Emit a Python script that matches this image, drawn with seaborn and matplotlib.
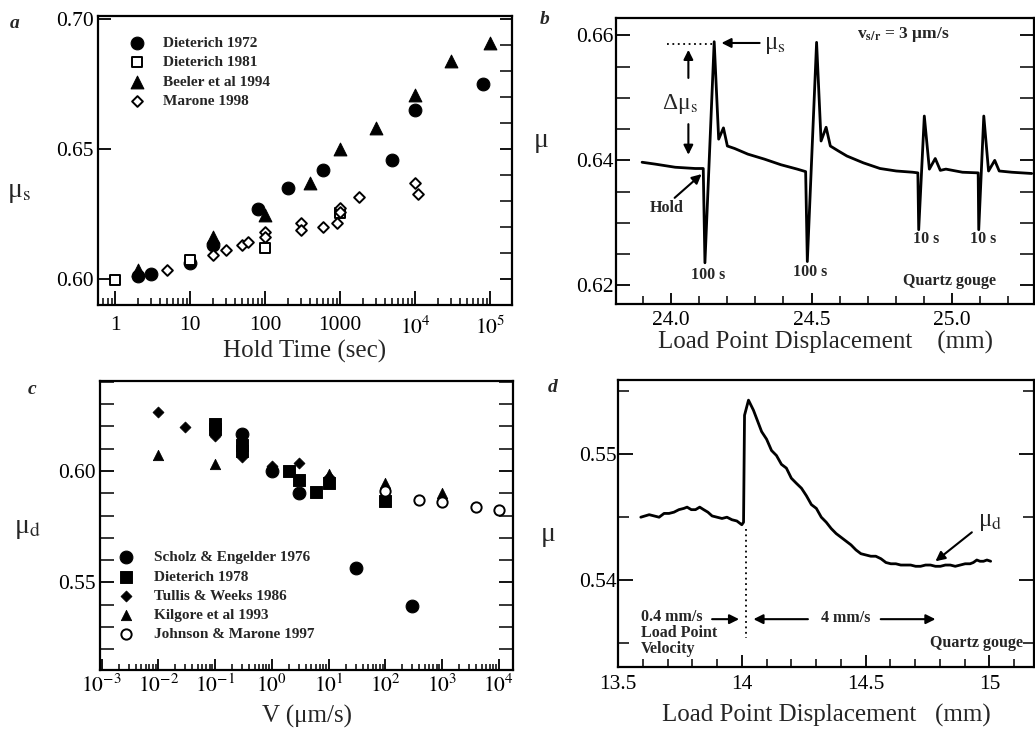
import numpy as np
import pandas as pd
import matplotlib
matplotlib.use("Agg")
import matplotlib.pyplot as plt
import matplotlib.ticker as mticker
import seaborn as sns

# ---------------- data: panel a (static friction vs hold time) ----------------
a_d72_t = [2, 3, 10, 20, 80, 200, 600, 5000, 1e4, 8e4]
a_d72_mu = [0.601, 0.602, 0.606, 0.613, 0.627, 0.635, 0.642, 0.646, 0.665, 0.675]
a_d81_t = [1, 10, 100, 1000]
a_d81_mu = [0.5997, 0.6075, 0.612, 0.6255]
a_b94_t = [2, 20, 100, 400, 1000, 3000, 1e4, 3e4, 1e5]
a_b94_mu = [0.6036, 0.616, 0.6245, 0.637, 0.650, 0.658, 0.671, 0.684, 0.691]
a_m98_t = [5, 20, 30, 50, 60, 100, 100, 300, 300, 600, 900, 1000, 1000, 1800, 1e4, 1.1e4]
a_m98_mu = [0.6036, 0.6094, 0.611, 0.613, 0.6143, 0.618, 0.616, 0.6217, 0.619,
            0.620, 0.6214, 0.6275, 0.626, 0.6316, 0.637, 0.6326]
a_labels = ["Dieterich 1972", "Dieterich 1981", "Beeler et al 1994", "Marone 1998"]
a_xticks = [1, 10, 100, 1000, 1e4, 1e5]
a_xticklabels = ["1", "10", "100", "1000", r"$10^4$", r"$10^5$"]

# ---------------- data: panel b (friction trace, slide-hold-slide) ----------------
b_x = [23.896, 23.943, 24.014, 24.085, 24.114, 24.120, 24.153, 24.169, 24.186, 24.200,
       24.226, 24.273, 24.332, 24.391, 24.449, 24.479, 24.485, 24.518, 24.534, 24.552,
       24.567, 24.596, 24.626, 24.685, 24.744, 24.802, 24.861, 24.879, 24.882, 24.902,
       24.920, 24.941, 24.959, 24.979, 25.038, 25.094, 25.096, 25.114, 25.131, 25.153,
       25.169, 25.214, 25.285]
b_mu = [0.6397, 0.6394, 0.6389, 0.6387, 0.6387, 0.6236, 0.6590, 0.6434, 0.6452, 0.6423,
        0.6419, 0.6410, 0.6402, 0.6393, 0.6386, 0.6382, 0.6238, 0.6589, 0.6431, 0.6453,
        0.6423, 0.6415, 0.6407, 0.6396, 0.6387, 0.6383, 0.6381, 0.6380, 0.6289, 0.6471,
        0.6386, 0.6403, 0.6384, 0.6386, 0.6381, 0.6380, 0.6289, 0.6471, 0.6383, 0.6400,
        0.6383, 0.6381, 0.6379]

# ---------------- data: panel c (dynamic friction vs velocity) ----------------
c_se76_v = [0.3, 1.0, 3.0, 30, 300]
c_se76_mu = [0.6166, 0.600, 0.590, 0.5567, 0.5394]
c_d78_v = [0.1, 0.1, 0.3, 0.3, 2, 3, 6, 10, 100]
c_d78_mu = [0.621, 0.619, 0.6117, 0.609, 0.600, 0.596, 0.5907, 0.5945, 0.5865]
c_tw86_v = [0.01, 0.03, 0.1, 0.3, 1.0, 3.0, 10]
c_tw86_mu = [0.6266, 0.6198, 0.6157, 0.6064, 0.6022, 0.6034, 0.5975]
c_k93_v = [0.01, 0.1, 10, 100, 1000]
c_k93_mu = [0.6072, 0.603, 0.5985, 0.5945, 0.590]
c_jm97_v = [100, 400, 1000, 4000, 10000]
c_jm97_mu = [0.591, 0.587, 0.5862, 0.584, 0.5825]
c_labels = ["Scholz & Engelder 1976", "Dieterich 1978", "Tullis & Weeks 1986",
            "Kilgore et al 1993", "Johnson & Marone 1997"]
c_xticks = [1e-3, 1e-2, 1e-1, 1e0, 1e1, 1e2, 1e3, 1e4]
c_xticklabels = [r"$10^{-3}$", r"$10^{-2}$", r"$10^{-1}$", r"$10^{0}$",
                 r"$10^{1}$", r"$10^{2}$", r"$10^{3}$", r"$10^{4}$"]

# ---------------- data: panel d (velocity step trace) ----------------
d_x = [13.592, 13.626, 13.646, 13.666, 13.686, 13.706, 13.726, 13.746, 13.766, 13.779,
       13.796, 13.813, 13.830, 13.846, 13.863, 13.880, 13.900, 13.920, 13.940, 13.960,
       13.980, 14.000, 14.007, 14.011, 14.027, 14.047, 14.080, 14.100, 14.120, 14.140,
       14.160, 14.180, 14.200, 14.220, 14.241, 14.261, 14.281, 14.301, 14.321, 14.341,
       14.361, 14.381, 14.401, 14.421, 14.441, 14.461, 14.481, 14.501, 14.521, 14.541,
       14.562, 14.582, 14.602, 14.622, 14.642, 14.662, 14.682, 14.702, 14.722, 14.742,
       14.762, 14.782, 14.802, 14.822, 14.842, 14.862, 14.882, 14.902, 14.922, 14.935,
       14.949, 14.962, 14.976, 14.990, 15.005]
d_mu = [0.5450, 0.5452, 0.5451, 0.5450, 0.5453, 0.5453, 0.5454, 0.5456, 0.5457, 0.5458,
        0.5456, 0.5456, 0.5458, 0.5456, 0.5454, 0.5451, 0.5450, 0.5449, 0.5450, 0.5448,
        0.5447, 0.5444, 0.5446, 0.5531, 0.5543, 0.5535, 0.5518, 0.5512, 0.5503, 0.5499,
        0.5492, 0.5489, 0.5481, 0.5477, 0.5473, 0.5467, 0.5460, 0.5457, 0.5450, 0.5446,
        0.5441, 0.5437, 0.5434, 0.5431, 0.5428, 0.5424, 0.5421, 0.5420, 0.5419, 0.5419,
        0.5417, 0.5414, 0.5413, 0.5413, 0.5412, 0.5412, 0.5412, 0.5411, 0.5411, 0.5412,
        0.5412, 0.5411, 0.5411, 0.5412, 0.5412, 0.5411, 0.5412, 0.5413, 0.5413, 0.5414,
        0.5416, 0.5415, 0.5415, 0.5416, 0.5415]

# ---------------- style ----------------
sns.set_theme(style="ticks")
plt.rcParams["font.family"] = ["Liberation Serif", "DejaVu Serif"]
plt.rcParams["mathtext.fontset"] = "stix"
plt.rcParams["axes.linewidth"] = 1.5
plt.rcParams["axes.edgecolor"] = "black"
plt.rcParams["xtick.color"] = "black"
plt.rcParams["ytick.color"] = "black"
plt.rcParams["xtick.major.width"] = 1.3
plt.rcParams["ytick.major.width"] = 1.3
plt.rcParams["xtick.minor.width"] = 1.1
plt.rcParams["ytick.minor.width"] = 1.1

TICK_FS = 15.5
LAB_FS = 18
MU_FS = 20
ANN_FS = 11.5

fig = plt.figure(figsize=(10.35, 7.3), dpi=100)
W, H = 1035.0, 730.0


def rect(l, r, t, b):
    return [l / W, 1 - b / H, (r - l) / W, (b - t) / H]


ax_a = fig.add_axes(rect(98, 512, 16, 305))
ax_b = fig.add_axes(rect(616, 1034, 18, 304))
ax_c = fig.add_axes(rect(100, 513, 381, 670))
ax_d = fig.add_axes(rect(618, 1034, 380, 667))
for ax in (ax_a, ax_b, ax_c, ax_d):
    ax.set_facecolor("white")
    for s in ax.spines.values():
        s.set_visible(True)
        s.set_color("black")
        s.set_linewidth(1.6)

FILLED = dict(color="black", edgecolor="black")
OPEN = dict(color="white", edgecolor="black", linewidth=1.4)

# ---------------- panel a ----------------
sns.scatterplot(x=a_d72_t, y=a_d72_mu, marker="o", s=85, label=a_labels[0], ax=ax_a, **FILLED)
sns.scatterplot(x=a_d81_t, y=a_d81_mu, marker="s", s=60, label=a_labels[1], ax=ax_a, **OPEN)
sns.scatterplot(x=a_b94_t, y=a_b94_mu, marker="^", s=85, label=a_labels[2], ax=ax_a, **FILLED)
sns.scatterplot(x=a_m98_t, y=a_m98_mu, marker="D", s=30, label=a_labels[3], ax=ax_a, **OPEN)
ax_a.set_xscale("log")
ax_a.set_xlim(0.593, 1.96e5)
ax_a.set_ylim(0.590, 0.7013)
ax_a.xaxis.set_major_locator(mticker.FixedLocator(a_xticks))
ax_a.xaxis.set_major_formatter(mticker.FixedFormatter(a_xticklabels))
ax_a.xaxis.set_minor_locator(mticker.LogLocator(base=10, subs=np.arange(2, 10), numticks=20))
ax_a.xaxis.set_minor_formatter(mticker.NullFormatter())
ax_a.yaxis.set_major_locator(mticker.MultipleLocator(0.05))
ax_a.yaxis.set_minor_locator(mticker.MultipleLocator(0.01))
ax_a.yaxis.set_major_formatter(mticker.FormatStrFormatter("%.2f"))
ax_a.tick_params(axis="x", which="major", direction="in", length=10, top=False, pad=8, labelsize=TICK_FS)
ax_a.tick_params(axis="x", which="minor", direction="in", length=5, top=False)
ax_a.tick_params(axis="y", which="major", direction="in", length=9, left=True, right=True, pad=3, labelsize=TICK_FS)
ax_a.tick_params(axis="y", which="minor", direction="in", length=9, left=False, right=True)
ax_a.set_xlabel("Hold Time (sec)", fontsize=LAB_FS, labelpad=1)
ax_a.set_ylabel(r"μ$_\mathrm{s}$", fontsize=MU_FS, rotation=0, va="center")
ax_a.yaxis.set_label_coords(-0.19, 0.39)
ax_a.legend(loc="upper left", bbox_to_anchor=(0.075, 0.93), frameon=False,
            handlelength=1.0, handletextpad=1.2, labelspacing=0.38, borderpad=0,
            borderaxespad=0, prop={"weight": "bold", "size": 11})

# ---------------- panel b ----------------
sns.lineplot(x=b_x, y=b_mu, color="black", linewidth=2.0, estimator=None, sort=False, ax=ax_b)
ax_b.set_xlim(23.803, 25.293)
ax_b.set_ylim(0.617, 0.6628)
ax_b.xaxis.set_major_locator(mticker.MultipleLocator(0.5))
ax_b.xaxis.set_minor_locator(mticker.MultipleLocator(0.1))
ax_b.xaxis.set_major_formatter(mticker.FormatStrFormatter("%.1f"))
ax_b.yaxis.set_major_locator(mticker.MultipleLocator(0.02))
ax_b.yaxis.set_minor_locator(mticker.MultipleLocator(0.005))
ax_b.yaxis.set_major_formatter(mticker.FormatStrFormatter("%.2f"))
ax_b.tick_params(axis="x", which="major", direction="in", length=8, top=False, pad=5, labelsize=TICK_FS)
ax_b.tick_params(axis="x", which="minor", direction="in", length=6, top=False)
ax_b.tick_params(axis="y", which="both", direction="in", length=10, left=True, right=True, pad=2, labelsize=TICK_FS)
ax_b.set_xlabel("Load Point Displacement    (mm)", fontsize=LAB_FS, labelpad=1)
ax_b.set_ylabel("μ", fontsize=MU_FS, rotation=0, va="center")
ax_b.yaxis.set_label_coords(-0.18, 0.57)
ax_b.plot([23.985, 24.148], [0.6587, 0.6587], color="black", linestyle=(0, (1, 2)), linewidth=1.3)
arr = dict(arrowstyle="-|>", color="black", lw=1.5, mutation_scale=14, shrinkA=0, shrinkB=0)
ax_b.annotate("", xy=(24.179, 0.6588), xytext=(24.315, 0.6588), arrowprops=arr)
ax_b.text(24.33, 0.6584, r"μ$_\mathrm{s}$", fontsize=18, ha="left", va="center")
ax_b.annotate("", xy=(24.061, 0.6577), xytext=(24.061, 0.6532), arrowprops=arr)
ax_b.annotate("", xy=(24.061, 0.6409), xytext=(24.061, 0.6458), arrowprops=arr)
ax_b.text(24.032, 0.6490, r"Δμ$_\mathrm{s}$", fontsize=17, ha="center", va="center")
ax_b.annotate("", xy=(24.108, 0.6378), xytext=(24.012, 0.6340), arrowprops=arr)
ax_b.text(23.985, 0.6324, "Hold", fontsize=ANN_FS, fontweight="bold", ha="center", va="center")
ax_b.text(24.13, 0.6216, "100 s", fontsize=ANN_FS, fontweight="bold", ha="center", va="center")
ax_b.text(24.495, 0.6221, "100 s", fontsize=ANN_FS, fontweight="bold", ha="center", va="center")
ax_b.text(24.907, 0.6274, "10 s", fontsize=ANN_FS, fontweight="bold", ha="center", va="center")
ax_b.text(25.113, 0.6274, "10 s", fontsize=ANN_FS, fontweight="bold", ha="center", va="center")
ax_b.text(24.992, 0.6207, "Quartz gouge", fontsize=ANN_FS, fontweight="bold", ha="center", va="center")
ax_b.text(24.827, 0.6601, r"v$_\mathbf{s/r}$ = 3 μm/s", fontsize=12.5, fontweight="bold", ha="center", va="center")

# ---------------- panel c ----------------
sns.scatterplot(x=c_se76_v, y=c_se76_mu, marker="o", s=85, label=c_labels[0], ax=ax_c, **FILLED)
sns.scatterplot(x=c_d78_v, y=c_d78_mu, marker="s", s=70, label=c_labels[1], ax=ax_c, **FILLED)
sns.scatterplot(x=c_tw86_v, y=c_tw86_mu, marker="D", s=32, label=c_labels[2], ax=ax_c, **FILLED)
sns.scatterplot(x=c_k93_v, y=c_k93_mu, marker="^", s=55, label=c_labels[3], ax=ax_c, **FILLED)
sns.scatterplot(x=c_jm97_v, y=c_jm97_mu, marker="o", s=55, label=c_labels[4], ax=ax_c, **OPEN)
ax_c.set_xscale("log")
ax_c.set_xlim(9.4e-4, 1.78e4)
ax_c.set_ylim(0.5107, 0.6404)
ax_c.xaxis.set_major_locator(mticker.FixedLocator(c_xticks))
ax_c.xaxis.set_major_formatter(mticker.FixedFormatter(c_xticklabels))
ax_c.xaxis.set_minor_locator(mticker.LogLocator(base=10, subs=np.arange(2, 10), numticks=20))
ax_c.xaxis.set_minor_formatter(mticker.NullFormatter())
ax_c.yaxis.set_major_locator(mticker.MultipleLocator(0.05))
ax_c.yaxis.set_minor_locator(mticker.MultipleLocator(0.01))
ax_c.yaxis.set_major_formatter(mticker.FormatStrFormatter("%.2f"))
ax_c.tick_params(axis="x", which="major", direction="in", length=8, top=False, pad=3, labelsize=TICK_FS)
ax_c.tick_params(axis="x", which="minor", direction="in", length=4, top=False)
ax_c.tick_params(axis="y", which="both", direction="in", length=10, left=True, right=True, pad=3, labelsize=TICK_FS)
ax_c.set_xlabel("V (μm/s)", fontsize=LAB_FS, labelpad=6)
ax_c.set_ylabel(r"μ$_\mathrm{d}$", fontsize=MU_FS, rotation=0, va="center")
ax_c.yaxis.set_label_coords(-0.175, 0.49)
ax_c.legend(loc="upper left", bbox_to_anchor=(0.045, 0.413), frameon=False,
            handlelength=1.0, handletextpad=1.3, labelspacing=0.36, borderpad=0,
            borderaxespad=0, prop={"weight": "bold", "size": 11})

# ---------------- panel d ----------------
sns.lineplot(x=d_x, y=d_mu, color="black", linewidth=2.0, estimator=None, sort=False, ax=ax_d)
ax_d.set_xlim(13.5, 15.18)
ax_d.set_ylim(0.5331, 0.5559)
ax_d.xaxis.set_major_locator(mticker.MultipleLocator(0.5))
ax_d.xaxis.set_minor_locator(mticker.MultipleLocator(0.1))
ax_d.xaxis.set_major_formatter(mticker.FormatStrFormatter("%g"))
ax_d.yaxis.set_major_locator(mticker.MultipleLocator(0.01))
ax_d.yaxis.set_minor_locator(mticker.MultipleLocator(0.005))
ax_d.yaxis.set_major_formatter(mticker.FormatStrFormatter("%.2f"))
ax_d.tick_params(axis="x", which="major", direction="in", length=9, top=False, pad=6, labelsize=TICK_FS)
ax_d.tick_params(axis="x", which="minor", direction="in", length=6, top=False)
ax_d.tick_params(axis="y", which="major", direction="in", length=11, left=True, right=True, pad=1, labelsize=TICK_FS)
ax_d.tick_params(axis="y", which="minor", direction="in", length=8, left=True, right=True)
ax_d.set_xlabel("Load Point Displacement   (mm)", fontsize=LAB_FS, labelpad=7)
ax_d.set_ylabel("μ", fontsize=MU_FS, rotation=0, va="center")
ax_d.yaxis.set_label_coords(-0.168, 0.46)
ax_d.plot([14.016, 14.016], [0.5441, 0.5354], color="black", linestyle=(0, (1, 2)), linewidth=1.3)
ax_d.text(13.592, 0.5371, "0.4 mm/s", fontsize=ANN_FS, fontweight="bold", ha="left", va="center")
ax_d.text(13.592, 0.5358, "Load Point", fontsize=ANN_FS, fontweight="bold", ha="left", va="center")
ax_d.text(13.592, 0.5345, "Velocity", fontsize=ANN_FS, fontweight="bold", ha="left", va="center")
ax_d.annotate("", xy=(13.989, 0.5369), xytext=(13.88, 0.5369), arrowprops=arr)
ax_d.annotate("", xy=(14.047, 0.5369), xytext=(14.267, 0.5369), arrowprops=arr)
ax_d.text(14.421, 0.5370, "4 mm/s", fontsize=ANN_FS, fontweight="bold", ha="center", va="center")
ax_d.annotate("", xy=(14.782, 0.5369), xytext=(14.561, 0.5369), arrowprops=arr)
ax_d.text(14.949, 0.5350, "Quartz gouge", fontsize=ANN_FS, fontweight="bold", ha="center", va="center")
ax_d.text(15.003, 0.5446, r"μ$_\mathrm{d}$", fontsize=18, ha="center", va="center")
ax_d.annotate("", xy=(14.782, 0.5415), xytext=(14.929, 0.5438), arrowprops=arr)

# ---------------- panel letters ----------------
fig.text(15 / W, 1 - 23 / H, "a", fontsize=14, fontstyle="italic", fontweight="bold", ha="center", va="center")
fig.text(545 / W, 1 - 20 / H, "b", fontsize=14, fontstyle="italic", fontweight="bold", ha="center", va="center")
fig.text(32 / W, 1 - 390 / H, "c", fontsize=14, fontstyle="italic", fontweight="bold", ha="center", va="center")
fig.text(553 / W, 1 - 387 / H, "d", fontsize=14, fontstyle="italic", fontweight="bold", ha="center", va="center")

fig.savefig("out.png", dpi=100, facecolor="white")
